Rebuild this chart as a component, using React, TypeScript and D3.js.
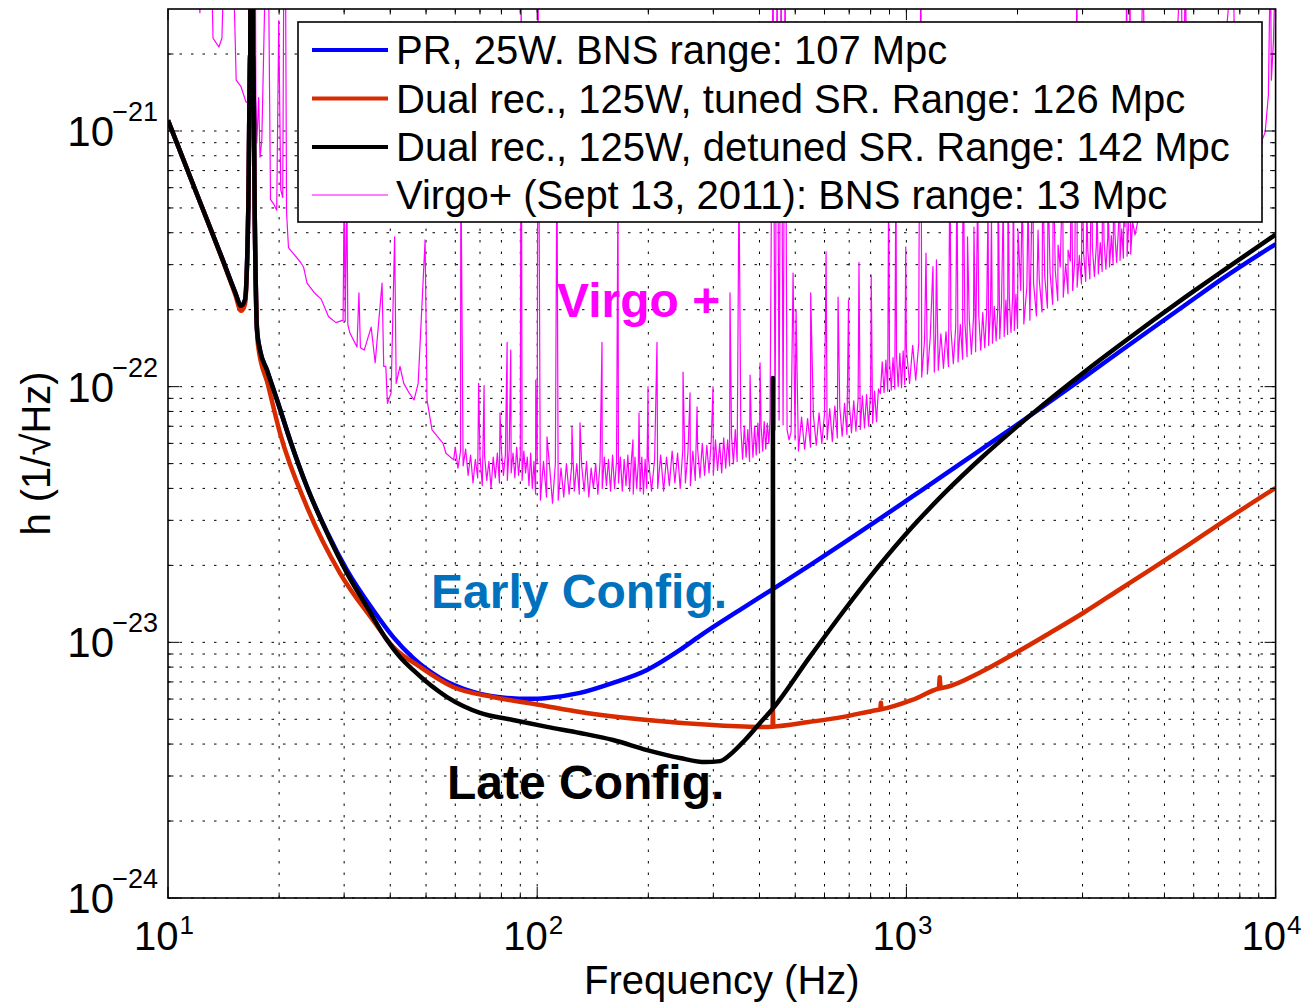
import React from 'react';
import * as d3 from 'd3';

type Pt = [number, number];

const W = 1310;
const H = 1003;
const PLOT = { left: 168, right: 1275.6, top: 9, bottom: 898 };

const xDomain: [number, number] = [10, 10000];
const yDomain: [number, number] = [1e-24, 3e-21];
const xMajor = [10, 100, 1000, 10000];
const xMajorExp = ['1', '2', '3', '4'];
const yMajor = [1e-24, 1e-23, 1e-22, 1e-21];
const yMajorExp = ['\u221224', '\u221223', '\u221222', '\u221221'];

const xLabel = 'Frequency (Hz)';
const yLabel = 'h (1/\u221AHz)';

const legendLabels = [
  'PR, 25W. BNS range: 107 Mpc',
  'Dual rec., 125W, tuned SR. Range: 126 Mpc',
  'Dual rec., 125W, detuned SR. Range: 142 Mpc',
  'Virgo+ (Sept 13, 2011): BNS range: 13 Mpc',
];
const seriesColors = ['#0000ff', '#d92b00', '#000000', '#ff00ff'];
const seriesWidths = [4.5, 4.5, 4.5, 1.2];

// PR, 25W (blue)
const pr25W: Pt[] = [
  [10, 1.10e-21], [12, 5.62e-22], [14, 3.19e-22], [15.2, 2.34e-22], [15.77, 2.07e-22], [16.16, 2.18e-22],
  [16.5, 5.0e-22], [16.7, 2.0e-21], [16.85, 1e-19], [17.0, 2.0e-21], [17.2, 4.0e-22], [17.42, 1.67e-22],
  [17.75, 1.39e-22], [18.54, 1.16e-22], [19.74, 8.87e-23], [21.4, 6.19e-23], [23.8, 4.05e-23], [26.96, 2.70e-23],
  [30.5, 1.92e-23], [35.9, 1.34e-23], [40.7, 1.05e-23], [46.1, 8.69e-24], [54.5, 7.26e-24], [67.0, 6.40e-24],
  [82.8, 6.06e-24], [95.6, 6.01e-24], [106.3, 6.06e-24], [130.6, 6.34e-24], [160.5, 6.94e-24], [198.4, 7.80e-24],
  [243.7, 9.34e-24], [276, 1.06e-23], [354.3, 1.34e-23], [439, 1.63e-23], [544.5, 1.992e-23], [674.8, 2.443e-23],
  [836, 3.005e-23], [1036.8, 3.713e-23], [1285, 4.586e-23], [1592, 5.675e-23], [1975, 7.033e-23], [2295, 8.187e-23],
  [3034, 1.090e-22], [3761, 1.363e-22], [4661, 1.70e-22], [5780, 2.12e-22], [7163, 2.64e-22], [10000, 3.61e-22],
];

// Dual recycling, 125W, tuned SR (red)
const dualTuned: Pt[] = [
  [10, 1.10e-21], [12, 5.62e-22], [14, 3.17e-22], [15.2, 2.30e-22], [15.77, 1.98e-22], [16.16, 2.1e-22],
  [16.5, 5.0e-22], [16.7, 2.0e-21], [16.85, 1e-19], [17.0, 2.0e-21], [17.2, 4.0e-22], [17.53, 1.456e-22],
  [18.66, 1.015e-22], [20.1, 6.59e-23], [23.8, 3.38e-23], [29.2, 1.87e-23], [35.9, 1.22e-23], [40.7, 9.6e-24],
  [48.2, 8.01e-24], [59.2, 6.69e-24], [75.9, 6.11e-24], [101.8, 5.69e-24], [130.6, 5.34e-24], [198.4, 4.97e-24],
  [299.4, 4.75e-24], [409, 4.67e-24], [434, 4.68e-24], [435, 5.44e-24], [436, 4.68e-24], [544.5, 4.88e-24],
  [674.8, 5.11e-24], [836, 5.44e-24], [850, 5.46e-24], [853, 5.8e-24], [856, 5.48e-24], [1036.8, 5.95e-24],
  [1225, 6.6e-24], [1231, 7.3e-24], [1237, 6.62e-24], [1285, 6.69e-24], [1592, 7.66e-24], [1975, 9.09e-24],
  [2447, 1.088e-23], [3034, 1.311e-23], [3761, 1.602e-23], [4661, 1.954e-23], [5780, 2.394e-23], [7163, 2.946e-23],
  [10000, 4.02e-23],
];

// Dual recycling, 125W, detuned SR (black)
const dualDetuned: Pt[] = [
  [10, 1.10e-21], [12, 5.62e-22], [14, 3.19e-22], [15.2, 2.34e-22], [15.77, 2.07e-22], [16.16, 2.18e-22],
  [16.5, 5.0e-22], [16.7, 2.0e-21], [16.85, 1e-19], [17.0, 2.0e-21], [17.2, 4.0e-22], [17.42, 1.67e-22],
  [17.75, 1.39e-22], [18.54, 1.16e-22], [19.74, 8.87e-23], [21.4, 6.19e-23], [23.8, 4.05e-23], [26.96, 2.68e-23],
  [30.5, 1.87e-23], [34.6, 1.375e-23], [39.2, 1.02e-23], [42.5, 8.77e-24], [46.1, 7.8e-24], [57.0, 6.11e-24],
  [70.0, 5.3e-24], [86.0, 4.97e-24], [106.3, 4.67e-24], [130.6, 4.42e-24], [160.5, 4.15e-24], [198.4, 3.79e-24],
  [243.7, 3.53e-24], [284.8, 3.40e-24], [312.6, 3.43e-24], [339, 3.72e-24], [365.5, 4.15e-24], [401.4, 4.84e-24],
  [434.5, 5.5e-24], [435, 1.08e-22], [435.5, 5.55e-24], [544.5, 8.67e-24], [674.8, 1.32e-23], [836, 1.963e-23],
  [1036.8, 2.824e-23], [1285, 3.909e-23], [1592, 5.248e-23], [1975, 6.90e-23], [2295, 8.28e-23], [3034, 1.142e-22],
  [3761, 1.445e-22], [4661, 1.818e-22], [5780, 2.274e-22], [7163, 2.824e-22], [10000, 3.935e-22],
];

// Virgo+ measured sensitivity, Sept 13 2011 (magenta)
const virgoLowBand: Pt[] = [
  [10, 3e-20], [12.0, 5e-21], [12.2, 2.9e-21], [12.4, 5e-21], [13.1, 5e-21], [13.24, 2.31e-21], [13.5, 2.21e-21],
  [13.74, 2.13e-21], [14.0, 2.31e-21], [14.2, 5e-21], [15.0, 5e-21], [15.3, 1.58e-21], [15.77, 1.49e-21],
  [16.26, 1.30e-21], [16.45, 1.29e-21], [16.7, 2.27e-21], [16.85, 1e-19], [17.1, 1e-19], [17.3, 1.32e-21],
  [17.4, 8.97e-22], [17.6, 1.35e-21], [17.75, 7.9e-22], [17.95, 9.2e-22], [18.4, 5e-21], [18.7, 5e-21],
  [18.95, 5.4e-22], [19.3, 5.2e-22], [19.7, 4.9e-22], [19.95, 2.7e-21], [20.2, 5.9e-22], [20.45, 5.5e-22],
  [20.6, 5e-21], [20.8, 5e-21], [20.95, 4.78e-22], [21.2, 3.5e-22], [21.8, 3.33e-22], [22.8, 3.08e-22],
  [23.3, 2.93e-22], [23.8, 2.54e-22], [24.9, 2.33e-22], [26.0, 2.2e-22], [27.2, 1.88e-22], [28.5, 1.78e-22],
  [29.8, 1.82e-22], [30.0, 6e-22], [30.2, 1.8e-22], [30.5, 6e-22], [30.7, 1.75e-22], [31.1, 1.62e-22],
  [32.5, 1.43e-22], [32.9, 2.33e-22], [33.2, 1.42e-22], [34.0, 1.39e-22], [35.5, 1.71e-22], [36.4, 1.24e-22],
  [37.2, 1.78e-22], [38.0, 2.54e-22], [38.4, 1.2e-22], [38.9, 1.2e-22], [39.3, 8.6e-23], [40.2, 9.45e-23],
  [41.1, 3.85e-22], [41.5, 1.03e-22], [42.5, 1.2e-22], [43.5, 1.03e-22], [45.0, 9.45e-23], [46.4, 8.87e-23],
  [47.6, 1.03e-22], [49.7, 3.75e-22], [50.3, 8.87e-23], [51.9, 6.77e-23], [55.6, 6.0e-23], [56.6, 5.49e-23],
  [59.4, 5.17e-23],
];

const virgoMidBand: Pt[] = [
  [60, 5.8e-23], [61, 4.8e-23], [62, 5.6e-23], [62.1, 8.4e-22], [63, 4.9e-23], [64, 5.7e-23], [65, 4.5e-23],
  [66, 5.4e-23], [67, 4.2e-23], [68, 5.2e-23], [69, 4.4e-23], [69.4, 1.03e-22], [70, 5.3e-23], [71, 4.1e-23],
  [71.8, 1.01e-22], [72, 5.4e-23], [73, 4.3e-23], [74, 5.1e-23], [75, 4.0e-23], [76, 5.3e-23], [77, 4.4e-23],
  [78, 5.5e-23], [79, 4.2e-23], [79.3, 7.9e-23], [80, 5.6e-23], [81, 4.5e-23], [82, 5.4e-23], [82.9, 1.49e-22],
  [83, 4.3e-23], [84, 5.7e-23], [84.8, 1.39e-22], [85, 4.6e-23], [86, 5.5e-23], [87, 4.4e-23], [88, 5.8e-23],
  [89, 4.5e-23], [90, 5.4e-23], [90.5, 5e-21], [91, 4.3e-23], [92, 5.6e-23], [93, 4.6e-23], [94, 5.3e-23],
  [95, 4.1e-23], [96, 5.5e-23], [97, 4.0e-23], [98, 5.1e-23], [99, 3.8e-23], [99.1, 1.06e-22], [100, 5.0e-23],
  [100.5, 5e-21], [102, 3.6e-23], [104, 5.1e-23], [106, 3.7e-23], [106.3, 6.37e-23], [108, 4.9e-23],
  [110, 3.5e-23], [112, 5.0e-23], [113.1, 8.4e-22], [114, 3.6e-23], [116, 4.8e-23], [118, 3.7e-23],
  [120, 5.0e-23], [122, 3.8e-23], [124, 4.9e-23], [124.2, 6.96e-23], [126, 3.9e-23], [128, 5.0e-23],
  [130, 3.8e-23], [130.6, 7.22e-23], [132, 4.9e-23], [134, 3.9e-23], [136, 5.1e-23], [138, 3.7e-23],
  [140, 4.8e-23], [142, 4.0e-23], [144, 5.0e-23], [146, 3.8e-23], [148, 5.1e-23], [149.8, 1.49e-22],
  [150, 4.0e-23], [152, 5.3e-23], [154, 4.1e-23], [156, 5.2e-23], [158, 3.9e-23], [160, 5.4e-23],
  [162, 4.0e-23], [164, 5.1e-23], [165.5, 6.44e-22], [166, 4.2e-23], [168, 5.3e-23], [170, 3.9e-23],
  [172, 5.2e-23], [174, 4.1e-23], [176, 5.4e-23], [178, 3.9e-23], [180, 5.2e-23], [181.7, 6.19e-23],
  [182, 3.8e-23], [184, 5.3e-23], [186, 4.0e-23], [188, 5.1e-23], [188.7, 7.9e-23], [190, 3.9e-23],
  [192, 5.3e-23], [194, 3.8e-23], [196, 5.2e-23], [198, 4.0e-23], [199.6, 1.0e-22], [200, 5.3e-23],
  [204, 3.9e-23], [208, 5.2e-23], [211.1, 1.49e-22], [212, 4.0e-23], [216, 5.4e-23], [220, 3.9e-23],
  [224, 5.3e-23], [228, 4.1e-23], [232, 5.6e-23], [236, 4.2e-23], [240, 5.5e-23], [244, 4.0e-23],
  [248, 5.7e-23], [248.3, 1.14e-22], [252, 4.2e-23], [256, 5.5e-23], [259.4, 9.45e-23], [260, 4.1e-23],
  [264, 5.6e-23], [268, 4.3e-23], [271, 8.33e-23], [272, 5.7e-23], [276, 4.4e-23], [280, 6.0e-23],
  [284, 4.5e-23], [288, 5.9e-23], [292, 4.6e-23], [296, 6.1e-23], [299.4, 1.0e-22], [300, 4.5e-23],
  [304, 6.2e-23], [308, 4.7e-23], [312, 6.0e-23], [316, 4.6e-23], [320, 6.3e-23], [324, 4.8e-23],
  [328, 6.2e-23], [332, 4.9e-23], [332.8, 2.33e-22], [336, 6.4e-23], [340, 5.0e-23], [344, 6.8e-23],
  [348, 5.1e-23], [352, 6.44e-22], [356, 6.9e-23], [360, 5.2e-23], [364, 7.0e-23], [368, 5.3e-23],
  [372, 6.8e-23], [376, 5.1e-23], [377.2, 1.11e-22], [380, 7.1e-23], [384, 5.3e-23], [388, 7.0e-23],
  [392, 5.4e-23], [396, 7.2e-23], [400, 5.5e-23], [401.4, 1.24e-22], [404, 7.1e-23], [408, 5.6e-23],
  [412, 7.3e-23], [416, 5.7e-23], [420, 7.2e-23], [424, 6.0e-23],
  [427.2, 7.4e-23], [435.3, 5e-21], [440.8, 6.77e-23], [446.3, 5e-21], [452.0, 7.4e-23], [457.7, 5e-21],
  [463.4, 7.08e-23], [469.2, 5e-21], [475.1, 6.77e-23], [481.0, 6.19e-23], [487.1, 6.64e-23], [493.2, 2.78e-22],
  [499.4, 6.19e-23], [502.5, 2.0e-22],
  [510, 5.6e-23], [520, 7.6e-23], [530, 5.7e-23], [540, 7.5e-23], [550, 5.8e-23], [550.5, 2.33e-22],
  [560, 7.7e-23], [570, 5.9e-23], [580, 7.9e-23], [590, 6.0e-23], [600, 7.8e-23], [606, 3.37e-22],
  [610, 6.2e-23], [620, 8.2e-23], [630, 6.1e-23], [640, 8.4e-23], [650, 6.3e-23], [653, 2.24e-22],
  [660, 8.3e-23], [670, 6.4e-23], [680, 8.6e-23], [690, 6.5e-23], [697, 2.18e-22], [700, 8.7e-23],
  [710, 6.6e-23], [720, 8.8e-23], [730, 6.7e-23], [740, 9.0e-23], [744, 3.06e-22], [750, 6.8e-23],
  [760, 9.2e-23], [770, 6.9e-23], [780, 9.3e-23], [790, 7.0e-23], [800, 9.5e-23], [803, 2.73e-22],
  [810, 7.2e-23], [820, 9.6e-23], [830, 7.3e-23], [840, 9.8e-23], [850, 9.4e-23], [860, 1.25e-22],
  [870, 9.5e-23], [880, 1.27e-22], [890, 9.6e-23], [895, 6.44e-22], [900, 1.28e-22], [910, 9.7e-23],
  [920, 1.30e-22], [930, 9.8e-23], [937, 8.4e-22], [940, 1.32e-22], [950, 1.0e-22], [960, 1.35e-22],
  [970, 9.9e-23], [980, 1.38e-22], [990, 1.02e-22], [996, 3.52e-22],
];

const virgoHighBand: Pt[] = [
  [1000, 1.40e-22], [1020, 1.03e-22], [1040, 1.45e-22], [1060, 1.06e-22], [1080, 1.48e-22], [1082, 3.33e-22],
  [1095, 5e-21], [1100, 1.09e-22], [1120, 1.52e-22], [1130, 3.33e-22], [1140, 1.12e-22], [1160, 1.55e-22],
  [1180, 2.95e-22], [1190, 1.14e-22], [1200, 1.58e-22], [1206, 3.13e-22], [1220, 1.16e-22], [1240, 1.61e-22],
  [1260, 1.18e-22], [1280, 1.64e-22], [1300, 1.20e-22], [1312, 8.4e-22], [1320, 1.68e-22], [1340, 1.23e-22],
  [1360, 1.72e-22], [1371, 6.44e-22], [1380, 1.25e-22], [1400, 1.75e-22], [1420, 1.28e-22], [1423, 1.1e-21],
  [1440, 1.79e-22], [1460, 1.31e-22], [1464, 3.85e-22], [1480, 1.83e-22], [1500, 1.34e-22], [1520, 1.87e-22],
  [1524, 4.21e-22], [1540, 1.37e-22], [1560, 6e-22], [1570, 1.91e-22], [1590, 1.39e-22], [1610, 1.95e-22],
  [1630, 1.42e-22], [1650, 1.99e-22], [1664, 5.37e-22], [1670, 1.45e-22], [1690, 2.02e-22], [1700, 4.5e-22],
  [1710, 1.48e-22], [1730, 2.06e-22], [1750, 1.51e-22], [1770, 2.10e-22], [1771, 7.7e-22], [1790, 1.54e-22],
  [1810, 2.14e-22], [1830, 5.5e-22], [1840, 1.57e-22], [1860, 2.18e-22], [1880, 1.60e-22], [1885, 6.44e-22],
  [1900, 2.22e-22], [1920, 1.63e-22], [1940, 2.26e-22], [1950, 7e-22], [1960, 1.66e-22], [1980, 2.30e-22],
  [2000, 1.69e-22], [2006, 4.1e-22], [2040, 2.38e-22], [2060, 6e-22], [2080, 1.76e-22], [2120, 2.46e-22],
  [2135, 5.37e-22], [2160, 1.82e-22], [2200, 8e-22], [2210, 2.54e-22], [2250, 1.89e-22], [2273, 4.1e-22],
  [2290, 2.62e-22], [2330, 1.96e-22], [2340, 7e-22], [2370, 2.70e-22], [2410, 2.03e-22], [2419, 6.44e-22],
  [2450, 2.78e-22], [2490, 2.10e-22], [2500, 8e-22], [2530, 2.86e-22], [2570, 2.17e-22], [2575, 3.58e-22],
  [2610, 2.94e-22], [2650, 7e-22], [2660, 2.24e-22], [2700, 3.02e-22], [2740, 2.31e-22], [2741, 3.42e-22],
  [2780, 3.10e-22], [2800, 9e-22], [2820, 2.38e-22], [2860, 3.18e-22], [2899, 5e-21], [2900, 2.45e-22],
  [2940, 3.26e-22], [2980, 2.52e-22], [2990, 8e-22], [3020, 3.34e-22], [3060, 2.58e-22], [3083, 4.91e-22],
  [3100, 3.42e-22], [3140, 2.64e-22], [3180, 9e-22], [3190, 3.50e-22], [3230, 2.70e-22], [3270, 3.58e-22],
  [3282, 5.37e-22], [3310, 2.76e-22], [3350, 3.66e-22], [3390, 2.82e-22], [3400, 1e-21], [3430, 3.74e-22],
  [3470, 2.88e-22], [3510, 3.82e-22], [3514, 5.88e-22], [3550, 2.94e-22], [3590, 3.90e-22], [3630, 3.00e-22],
  [3650, 1e-21], [3670, 3.98e-22], [3710, 3.06e-22], [3750, 4.06e-22], [3785, 6.44e-22], [3790, 3.12e-22],
  [3830, 4.14e-22], [3870, 3.18e-22], [3900, 1e-21], [3910, 4.22e-22], [3953, 5e-21], [3960, 3.24e-22],
  [4000, 4.30e-22], [4035, 5e-21], [4050, 3.30e-22], [4100, 4.40e-22], [4162, 3.92e-22], [4267, 4.69e-22],
  [4374, 5e-21], [4457, 4.49e-22], [4569, 4.91e-22], [4861, 5.37e-22], [5170, 5.62e-22], [5550, 5e-21],
  [5620, 5.88e-22], [5690, 5e-21], [5790, 6.15e-22], [6240, 6.73e-22], [6860, 7.36e-22], [7670, 5e-21],
  [7820, 7.7e-22], [8520, 8.4e-22], [9190, 9.2e-22], [9370, 9.9e-22], [9560, 1.38e-21], [9680, 5e-21],
  [9740, 1.58e-21], [9870, 2.27e-21], [10000, 5e-21],
];

const annotations = [
  { text: 'Virgo +', x: 557, y: 317, color: '#ff00ff' },
  { text: 'Early Config.', x: 431, y: 608, color: '#0072bd' },
  { text: 'Late Config.', x: 447, y: 799, color: '#000000' },
];

const FONT = "'Liberation Sans', Arial, Helvetica, sans-serif";

// separate narrow local maxima (resonance lines) from the smooth part of a model curve
function splitSpikes(data: Pt[]) {
  const base: Pt[] = [];
  const spikes: Pt[][] = [];
  data.forEach((d, i) => {
    const prev = data[i - 1];
    const next = data[i + 1];
    if (prev && next && d[1] > 1.04 * prev[1] && d[1] > 1.04 * next[1]) spikes.push([prev, d, next]);
    else base.push(d);
  });
  const kept: Pt[] = [];
  base.forEach((p) => {
    const last = kept[kept.length - 1];
    if (!last || Math.log10(p[0] / last[0]) > 0.005) kept.push(p);
  });
  return { base: kept, spikes };
}

export default function App() {
  const x = d3.scaleLog().domain(xDomain).range([PLOT.left, PLOT.right]);
  const y = d3.scaleLog().domain(yDomain).range([PLOT.bottom, PLOT.top]);

  const xTicks = x.ticks();
  const yTicks = y.ticks().filter((v) => v <= yDomain[1] * 0.999);

  const smooth = d3.line<Pt>().x((d) => x(d[0])).y((d) => y(d[1])).curve(d3.curveMonotoneX);
  const straight = d3.line<Pt>().x((d) => x(d[0])).y((d) => y(d[1]));

  const isMajorX = (v: number) => xMajor.some((m) => Math.abs(v / m - 1) < 1e-6);
  const isMajorY = (v: number) => yMajor.some((m) => Math.abs(v / m - 1) < 1e-6);

  const virgoPlus: Pt[] = [...virgoLowBand, ...virgoMidBand, ...virgoHighBand];
  const series: Pt[][] = [pr25W, dualTuned, dualDetuned, virgoPlus];
  const modelOrder = [0, 1, 2];

  const gridDash = '2.5,9';
  const legend = { x0: 298, x1: 1262, y0: 22, y1: 222, rows: [50, 98.5, 147, 195] };

  return (
    <svg width={W} height={H} style={{ position: 'absolute', left: 0, top: 0, background: '#fff' }} fontFamily={FONT}>
      <defs>
        <clipPath id="plotClip">
          <rect x={PLOT.left} y={PLOT.top} width={PLOT.right - PLOT.left} height={PLOT.bottom - PLOT.top} />
        </clipPath>
      </defs>
      <rect x={0} y={0} width={W} height={H} fill="#fff" />

      {/* grid */}
      <g stroke="#000" strokeWidth={1} strokeDasharray={gridDash}>
        {xTicks.filter((v) => v > xDomain[0] && v < xDomain[1]).map((v, i) => (
          <line key={'gx' + i} x1={x(v)} x2={x(v)} y1={PLOT.bottom} y2={PLOT.top} />
        ))}
        {yTicks.filter((v) => v > yDomain[0]).map((v, i) => (
          <line key={'gy' + i} x1={PLOT.left} x2={PLOT.right} y1={y(v)} y2={y(v)} />
        ))}
      </g>

      {/* curves */}
      <g clipPath="url(#plotClip)" fill="none" strokeLinejoin="round">
        <path d={straight(series[3]) || ''} stroke={seriesColors[3]} strokeWidth={seriesWidths[3]} />
        {modelOrder.map((si) => {
          const { base, spikes } = splitSpikes(series[si]);
          return (
            <g key={'s' + si} stroke={seriesColors[si]} strokeWidth={seriesWidths[si]}>
              <path d={smooth(base) || ''} />
              {spikes.map((sp, k) => (
                <path key={k} d={straight(sp) || ''} />
              ))}
            </g>
          );
        })}
      </g>

      {/* ticks */}
      <g stroke="#000" strokeWidth={1}>
        {xTicks.map((v, i) => {
          const len = isMajorX(v) ? 11 : 5.5;
          return (
            <g key={'tx' + i}>
              <line x1={x(v)} x2={x(v)} y1={PLOT.bottom} y2={PLOT.bottom - len} />
              <line x1={x(v)} x2={x(v)} y1={PLOT.top} y2={PLOT.top + len} />
            </g>
          );
        })}
        {yTicks.map((v, i) => {
          const len = isMajorY(v) ? 11 : 5.5;
          return (
            <g key={'ty' + i}>
              <line x1={PLOT.left} x2={PLOT.left + len} y1={y(v)} y2={y(v)} />
              <line x1={PLOT.right} x2={PLOT.right - len} y1={y(v)} y2={y(v)} />
            </g>
          );
        })}
      </g>

      {/* axes box */}
      <rect x={PLOT.left} y={PLOT.top} width={PLOT.right - PLOT.left} height={PLOT.bottom - PLOT.top}
        fill="none" stroke="#000" strokeWidth={1.6} />

      {/* x tick labels */}
      {xMajor.map((v, i) => (
        <text key={'xl' + i} x={x(v) - 4} y={950} fontSize={40} textAnchor="middle" fill="#000">
          10
          <tspan fontSize={26} dy={-16} dx={1}>{xMajorExp[i]}</tspan>
        </text>
      ))}

      {/* y tick labels */}
      {yMajor.map((v, i) => (
        <g key={'yl' + i}>
          <text x={114} y={y(v) + 15} fontSize={42} textAnchor="end" fill="#000">10</text>
          <text x={158} y={y(v) - 10} fontSize={27} textAnchor="end" fill="#000">{yMajorExp[i]}</text>
        </g>
      ))}

      {/* axis labels */}
      <text x={(PLOT.left + PLOT.right) / 2} y={994} fontSize={40} textAnchor="middle" fill="#000">{xLabel}</text>
      <text transform={`translate(50, ${(PLOT.top + PLOT.bottom) / 2}) rotate(-90)`} fontSize={40} textAnchor="middle" fill="#000">
        {yLabel}
      </text>

      {/* annotations */}
      {annotations.map((a, i) => (
        <text key={'an' + i} x={a.x} y={a.y} fontSize={48} fontWeight="bold" fill={a.color}>{a.text}</text>
      ))}

      {/* legend */}
      <rect x={legend.x0} y={legend.y0} width={legend.x1 - legend.x0} height={legend.y1 - legend.y0}
        fill="#fff" stroke="#000" strokeWidth={1.6} />
      {legendLabels.map((lab, i) => (
        <g key={'lg' + i}>
          <line x1={312} x2={388} y1={legend.rows[i]} y2={legend.rows[i]} stroke={seriesColors[i]} strokeWidth={i === 3 ? 1.2 : 4} />
          <text x={396} y={legend.rows[i] + 14} fontSize={40} fill="#000">{lab}</text>
        </g>
      ))}
    </svg>
  );
}
